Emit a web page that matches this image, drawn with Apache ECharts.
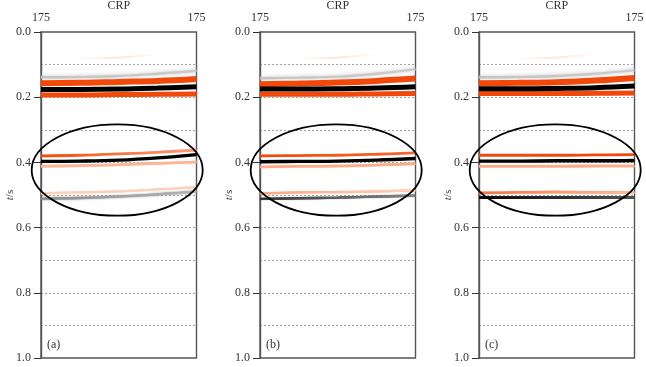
<!DOCTYPE html>
<html><head><meta charset="utf-8">
<style>html,body{margin:0;padding:0;background:#fff}#c{width:646px;height:367px}</style>
<script src="https://cdn.jsdelivr.net/npm/echarts@6/dist/echarts.min.js"></script>
</head><body><div id="c"></div>
<script>
const traces = [0, 0.25, 0.5, 0.75, 1];
const panelLabels = ['(a)', '(b)', '(c)'];
const traceLabel = '175';
const ellipse = [0.49, 0.4235, 0.55, 0.14];

// panel (a): two-way time of each event at the sampled traces
const aFaint   = [null, 0.082, 0.078, 0.068, null];
const aGray    = [0.139, 0.138, 0.135, 0.128, 0.119];
const aOrange1 = [0.157, 0.156, 0.153, 0.150, 0.144];
const aOrange2 = [0.193, 0.193, 0.192, 0.191, 0.190];
const aBlack1  = [0.176, 0.176, 0.175, 0.172, 0.168];
const aOrange3 = [0.380, 0.378, 0.374, 0.369, 0.362];
const aLight1  = [0.412, 0.410, 0.407, 0.403, 0.399];
const aBlack2  = [0.397, 0.396, 0.393, 0.386, 0.376];
const aLight2  = [0.495, 0.492, 0.489, 0.483, 0.476];
const aGray2   = [0.511, 0.509, 0.505, 0.498, 0.489];
// panel (b)
const bFaint   = [null, 0.082, 0.078, 0.068, null];
const bGray    = [0.142, 0.140, 0.137, 0.128, 0.114];
const bOrange1 = [0.160, 0.158, 0.155, 0.150, 0.143];
const bOrange2 = [0.191, 0.191, 0.191, 0.190, 0.189];
const bBlack1  = [0.175, 0.175, 0.174, 0.172, 0.168];
const bOrange3 = [0.380, 0.379, 0.378, 0.375, 0.371];
const bLight1  = [0.414, 0.412, 0.411, 0.408, 0.404];
const bBlack2  = [0.398, 0.397, 0.396, 0.393, 0.388];
const bLight2  = [0.495, 0.492, 0.491, 0.489, 0.486];
const bGray2   = [0.512, 0.510, 0.508, 0.505, 0.502];
// panel (c)
const cFaint   = [null, 0.082, 0.078, 0.068, null];
const cGray    = [0.139, 0.138, 0.135, 0.128, 0.117];
const cOrange1 = [0.157, 0.156, 0.154, 0.149, 0.141];
const cOrange2 = [0.189, 0.189, 0.189, 0.188, 0.187];
const cBlack1  = [0.174, 0.174, 0.173, 0.171, 0.166];
const cOrange3 = [0.378, 0.378, 0.378, 0.377, 0.376];
const cLight1  = [0.412, 0.412, 0.412, 0.411, 0.411];
const cBlack2  = [0.396, 0.396, 0.395, 0.395, 0.394];
const cLight2  = [0.494, 0.492, 0.491, 0.492, 0.493];
const cGray2   = [0.508, 0.508, 0.508, 0.507, 0.507];

const panels = [
  [aFaint,aGray,aOrange1,aOrange2,aBlack1,aOrange3,aLight1,aBlack2,aLight2,aGray2],
  [bFaint,bGray,bOrange1,bOrange2,bBlack1,bOrange3,bLight1,bBlack2,bLight2,bGray2],
  [cFaint,cGray,cOrange1,cOrange2,cBlack1,cOrange3,cLight1,cBlack2,cLight2,cGray2]
];
const fade = (l, r) => ({type:'linear',x:0,y:0,x2:1,y2:0,colorStops:[{offset:0,color:l},{offset:1,color:r}]});
const faint = {type:'linear',x:0,y:0,x2:1,y2:0,colorStops:[{offset:0,color:'#fff'},{offset:.5,color:'#fde6da'},{offset:1,color:'#fff'}]};
const grayBand = fade('#c4c4c4','#cbcbcb');
const styles = [
  [ {c:faint,w:2},{c:grayBand,w:2.4,b:4},{c:'#f2480a',w:6},{c:'#f2480a',w:5},{c:'#000',w:5},
    {c:fade('#f2480a','#f9a27e'),w:2.8},{c:'#fbb598',w:2.6,b:1},{c:'#000',w:3.4},{c:'#fcd0bb',w:2.2,b:1},{c:fade('#8a8a8a','#b5b5b5'),w:2.4,b:2} ],
  [ {c:faint,w:2},{c:grayBand,w:2.4,b:4},{c:'#f2480a',w:6},{c:'#f2480a',w:5},{c:'#000',w:5},
    {c:fade('#f2480a','#f4682f'),w:2.8},{c:'#fbab8a',w:2.6,b:1},{c:'#000',w:3.4},{c:fade('#faa481','#fdd5c3'),w:2.2,b:1},{c:fade('#333','#888'),w:2.4,b:1} ],
  [ {c:faint,w:2},{c:grayBand,w:2.4,b:4},{c:'#f2480a',w:6},{c:'#f2480a',w:5},{c:'#000',w:5},
    {c:'#f2480a',w:2.8},{c:'#fbab8a',w:2.6,b:1},{c:'#000',w:3.4},{c:fade('#f2703c','#fcc4ab'),w:2.4,b:1},{c:fade('#000','#555'),w:2.8,b:.5} ]
];
const lefts = [41, 260, 479];
const font = 'Liberation Serif';
const ink = '#333';
const border = '#555';

const grid = [], xAxis = [], yAxis = [], series = [], title = [];
lefts.forEach((left, i) => {
  grid.push({left, top:32, width:155.5, height:326, outerBoundsMode:'none', show:true, borderColor:border, borderWidth:1.4, backgroundColor:'#fff'});
  xAxis.push({gridIndex:i, type:'value', position:'top', min:0, max:1, interval:1,
    name:'CRP', nameLocation:'middle', nameGap:20, nameMoveOverlap:false, nameTextStyle:{fontFamily:font,fontSize:12,color:ink},
    axisLine:{show:false}, axisTick:{show:false}, splitLine:{show:false},
    axisLabel:{fontFamily:font,fontSize:12,color:ink,margin:8,formatter:()=>traceLabel,showMinLabel:true,showMaxLabel:true}});
  yAxis.push({gridIndex:i, type:'value', inverse:true, min:0, max:1, interval:0.2,
    name:'{i|t}/s', nameLocation:'middle', nameGap:25, nameRotate:90, nameMoveOverlap:false,
    nameTextStyle:{fontFamily:font,fontSize:11,color:ink,rich:{i:{fontFamily:font,fontStyle:'italic',fontSize:11,color:ink}}},
    axisLine:{show:true,lineStyle:{color:border,width:1.4}},
    axisTick:{show:true,length:7,lineStyle:{color:ink,width:1}},
    axisLabel:{fontFamily:font,fontSize:12,color:ink,margin:10,formatter:v=>v.toFixed(1),showMinLabel:true,showMaxLabel:true},
    splitLine:{show:true,showMinLine:false,showMaxLine:false,lineStyle:{color:'#999',type:[2,2],width:0.9}},
    minorTick:{show:false,splitNumber:2},
    minorSplitLine:{show:true,lineStyle:{color:'#999',type:[2,2],width:0.9}}});
  panels[i].forEach((vals, k) => {
    const s = styles[i][k];
    series.push({type:'line', xAxisIndex:i, yAxisIndex:i, smooth:0.4, symbol:'none', silent:true, connectNulls:false,
      z:3, data:traces.map((x,j)=>[x,vals[j]]),
      lineStyle:{color:s.c,width:s.w,cap:'butt',shadowBlur:s.b||0,shadowColor:s.b?(typeof s.c==='string'?s.c:s.c.colorStops[0].color):'transparent'}});
  });
  series.push({type:'custom', xAxisIndex:i, yAxisIndex:i, clip:false, silent:true, z:5,
    data:[ellipse], encode:{x:0,y:1},
    renderItem:(p,api)=>{
      const c = api.coord([api.value(0),api.value(1)]);
      const e = api.coord([api.value(0)+api.value(2),api.value(1)+api.value(3)]);
      return {type:'ellipse',shape:{cx:c[0],cy:c[1],rx:Math.abs(e[0]-c[0]),ry:Math.abs(e[1]-c[1])},
        style:{fill:'none',stroke:'#000',lineWidth:1.8}};
    }});
  title.push({text:panelLabels[i], left:left+6, top:339, textStyle:{fontFamily:font,fontSize:12,fontWeight:'normal',color:ink}, padding:0});
});
const chart = echarts.init(document.getElementById('c'), null, {renderer:'canvas'});
chart.setOption({animation:false, backgroundColor:'#fff', title, grid, xAxis, yAxis, series});
</script></body></html>
